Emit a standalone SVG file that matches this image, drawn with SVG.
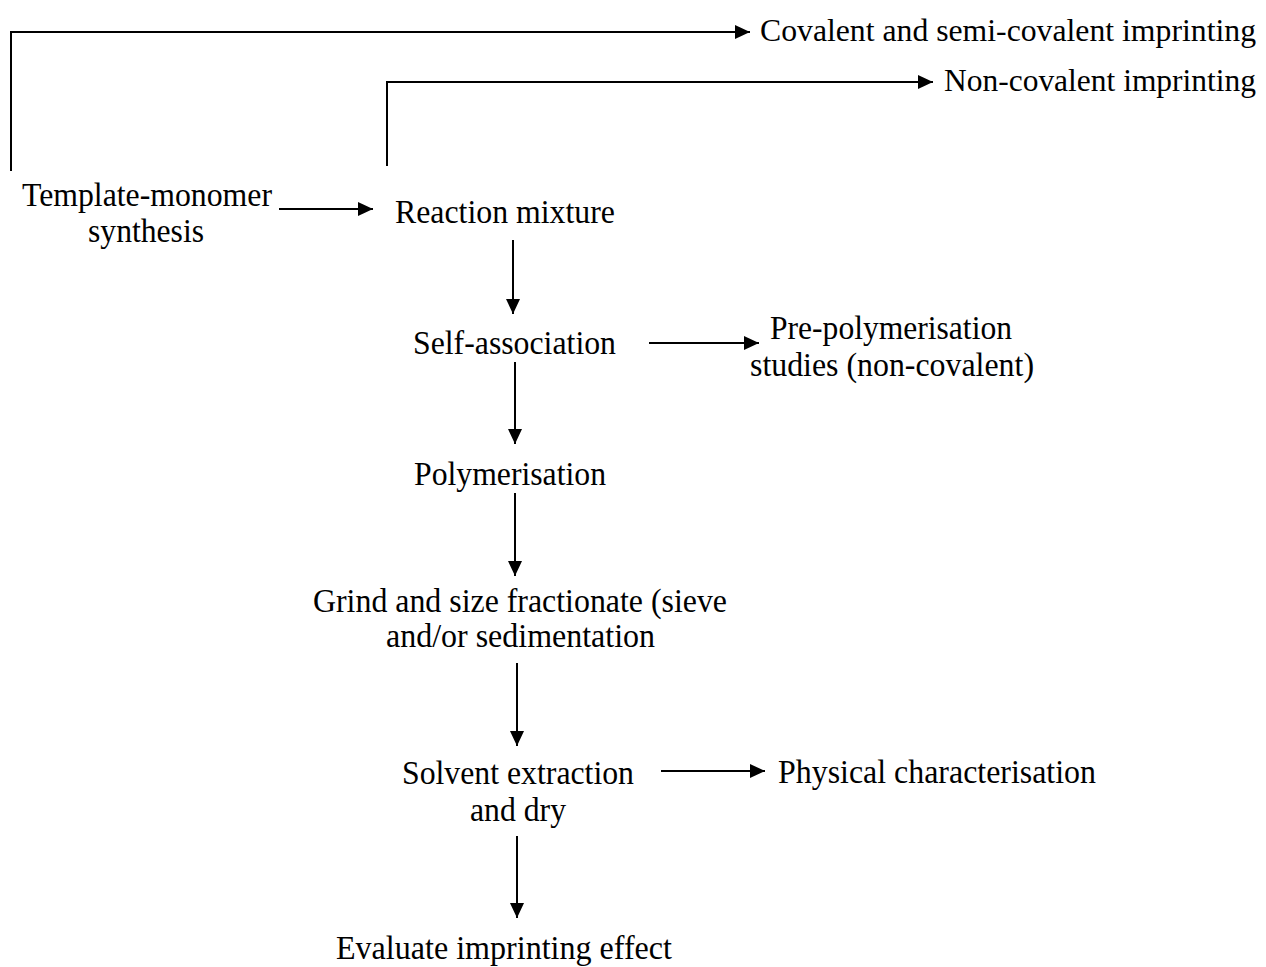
<svg xmlns="http://www.w3.org/2000/svg" width="1266" height="967" viewBox="0 0 1266 967">
<style>
text{font-family:"Liberation Serif","Times New Roman",serif;font-size:34px;fill:#000}
text.r{font-size:32px}
.c{fill:none;stroke:#000;stroke-width:2}
</style>
<defs>
<marker id="ah" markerUnits="userSpaceOnUse" markerWidth="16" markerHeight="14" refX="15" refY="7" orient="auto">
<path d="M0,0 L15,7 L0,14 z" fill="#000"/>
</marker>
</defs>
<rect width="1266" height="967" fill="#fff"/>
<g id="connectors">
<path class="c" d="M11,171 V32 H750" marker-end="url(#ah)"/>
<path class="c" d="M387,166 V82 H933" marker-end="url(#ah)"/>
<path class="c" d="M279,209 H373" marker-end="url(#ah)"/>
<path class="c" d="M513,240 V314" marker-end="url(#ah)"/>
<path class="c" d="M649,343 H759" marker-end="url(#ah)"/>
<path class="c" d="M515,362 V444" marker-end="url(#ah)"/>
<path class="c" d="M515,493 V576" marker-end="url(#ah)"/>
<path class="c" d="M517,663 V746" marker-end="url(#ah)"/>
<path class="c" d="M661,771 H765" marker-end="url(#ah)"/>
<path class="c" d="M517,836 V918" marker-end="url(#ah)"/>
</g>
<g id="n-covalent"><text class="r" x="760" y="41" textLength="496" lengthAdjust="spacingAndGlyphs">Covalent and semi-covalent imprinting</text></g>
<g id="n-noncovalent"><text class="r" x="944" y="91" textLength="312" lengthAdjust="spacingAndGlyphs">Non-covalent imprinting</text></g>
<g id="n-template"><text x="22" y="206" textLength="250" lengthAdjust="spacingAndGlyphs">Template-monomer</text><text x="88" y="242" textLength="116" lengthAdjust="spacingAndGlyphs">synthesis</text></g>
<g id="n-reaction"><text x="395" y="223" textLength="220" lengthAdjust="spacingAndGlyphs">Reaction mixture</text></g>
<g id="n-self"><text x="413" y="354" textLength="203" lengthAdjust="spacingAndGlyphs">Self-association</text></g>
<g id="n-prepoly"><text x="770" y="339" textLength="242" lengthAdjust="spacingAndGlyphs">Pre-polymerisation</text><text x="750" y="376" textLength="284" lengthAdjust="spacingAndGlyphs">studies (non-covalent)</text></g>
<g id="n-poly"><text x="414" y="485" textLength="192" lengthAdjust="spacingAndGlyphs">Polymerisation</text></g>
<g id="n-grind"><text x="313" y="612" textLength="414" lengthAdjust="spacingAndGlyphs">Grind and size fractionate (sieve</text><text x="386" y="647" textLength="269" lengthAdjust="spacingAndGlyphs">and/or sedimentation</text></g>
<g id="n-solvent"><text x="402" y="784" textLength="232" lengthAdjust="spacingAndGlyphs">Solvent extraction</text><text x="470" y="821" textLength="96" lengthAdjust="spacingAndGlyphs">and dry</text></g>
<g id="n-physical"><text x="778" y="783" textLength="318" lengthAdjust="spacingAndGlyphs">Physical characterisation</text></g>
<g id="n-evaluate"><text x="336" y="959" textLength="336" lengthAdjust="spacingAndGlyphs">Evaluate imprinting effect</text></g>
</svg>
